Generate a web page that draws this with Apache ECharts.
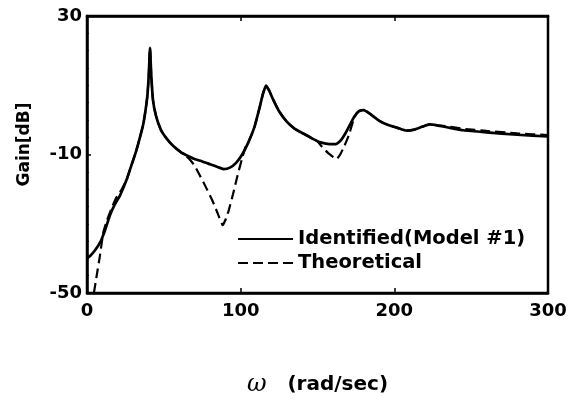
<!DOCTYPE html>
<html>
<head>
<meta charset="utf-8">
<script src="https://cdn.jsdelivr.net/npm/echarts@6/dist/echarts.min.js"></script>
<style>
html,body{margin:0;padding:0;background:#fff;}
#chart{width:577px;height:402px;}
</style>
</head>
<body>
<div id="chart"></div>
<script>
// Frequency (rad/sec) and gain (dB)
var identifiedX = [0, 2, 5, 9, 12, 15, 18, 21.5, 26, 29, 32, 34.5, 36.5, 38, 39.3, 40.2, 41, 41.8, 43, 45, 48, 52, 56, 61, 66, 70, 75, 80, 85, 89, 93, 97, 101, 105, 109, 112, 114.5, 116.5, 118.5, 121, 125, 130, 135, 141, 147, 152, 158, 162, 165, 168, 171, 174, 177, 180, 184, 190, 196, 202, 208, 213, 218, 223, 228, 235, 245, 260, 280, 300];
var identifiedY = [-40, -39.3, -37.8, -35, -31.5, -27.5, -24.5, -21.8, -17, -13, -9, -5, -1.5, 2.5, 7, 13, 20.8, 13, 5.5, 1, -2.8, -5.5, -7.5, -9.3, -10.5, -11.3, -12, -12.8, -13.6, -14.2, -13.8, -12.4, -10, -6.5, -2, 3, 7.5, 9.9, 8.5, 6, 2.5, -0.5, -2.5, -4, -5.5, -6.5, -7, -7, -6, -4, -1.5, 1, 2.5, 2.8, 1.8, -0.2, -1.5, -2.3, -3.1, -2.8, -2, -1.3, -1.6, -2.2, -3, -3.6, -4.3, -4.8];
var theoreticalX = [4.5, 6.3, 8.5, 10.6, 13, 16, 19, 22, 26, 29, 32, 34.5, 36.5, 38, 39.3, 40.2, 41, 41.8, 43, 45, 48, 52, 56, 61, 64, 67, 70, 73.5, 78, 82, 85.5, 88.3, 90, 92, 95, 98, 101, 103, 105, 109, 112, 114.5, 116.5, 118.5, 121, 125, 130, 135, 141, 147, 150, 153, 157, 162.4, 165, 167, 169, 171, 174, 177, 180, 184, 190, 196, 202, 208, 213, 218, 223, 228, 235, 245, 260, 280, 300];
var theoreticalY = [-50, -45, -39, -32.5, -29, -25.5, -22.5, -20.5, -17, -13, -9, -5, -1.5, 2.5, 7, 13, 20.8, 13, 5.5, 1, -2.8, -5.5, -7.5, -9.3, -10.3, -11.5, -13.2, -16.1, -20, -23.7, -27.5, -30.4, -29, -26.5, -21.5, -16, -11, -8, -6.5, -2, 3, 7.5, 9.9, 8.5, 6, 2.5, -0.5, -2.5, -4, -5.5, -6.2, -7.8, -9.6, -11.3, -9.8, -8, -6, -3.6, 0.7, 2.5, 2.8, 1.8, -0.2, -1.5, -2.3, -3.1, -2.8, -2, -1.3, -1.6, -1.9, -2.6, -3.2, -3.9, -4.4];
var xTicks = [0, 100, 200, 300];
var yTicks = [-50, -10, 30];
var seriesNames = ['Identified(Model #1)', 'Theoretical'];

function pairs(xs, ys) { return xs.map(function (x, i) { return [x, ys[i]]; }); }

var tickFont = { fontFamily: 'DejaVu Sans', fontWeight: 'bold', fontSize: 18, color: '#000' };
var chart = echarts.init(document.getElementById('chart'), null, { renderer: 'canvas' });
chart.setOption({
  animation: false,
  backgroundColor: '#fff',
  grid: { left: 87, right: 29, top: 16, bottom: 107, show: true, borderColor: '#000', borderWidth: 2.5, backgroundColor: 'transparent' },
  legend: {
    show: true, orient: 'vertical', left: 232, top: 224, itemWidth: 55, itemHeight: 20, itemGap: 4,
    itemStyle: { opacity: 0 },
    textStyle: { fontFamily: 'DejaVu Sans', fontWeight: 'bold', fontSize: 19.5, color: '#000' },
    data: seriesNames
  },
  xAxis: [{
    type: 'value', min: xTicks[0], max: xTicks[xTicks.length - 1], interval: 100, position: 'bottom',
    axisLine: { show: true, onZero: false, lineStyle: { color: '#000', width: 2.5 } },
    axisTick: { show: true, inside: true, length: 5, lineStyle: { color: '#000', width: 1.5 } },
    axisLabel: Object.assign({ margin: 9 }, tickFont),
    splitLine: { show: false },
    name: '{w|ω}   (rad/sec)', nameLocation: 'middle', nameGap: 80,
    nameTextStyle: { fontFamily: 'DejaVu Sans', fontWeight: 'bold', fontSize: 20, color: '#000',
      rich: { w: { fontFamily: 'DejaVu Serif', fontStyle: 'italic', fontWeight: 'normal', fontSize: 24, color: '#000' } } }
  }, {
    type: 'value', min: xTicks[0], max: xTicks[xTicks.length - 1], interval: 100, position: 'top',
    axisLine: { show: true, onZero: false, lineStyle: { color: '#000', width: 2.5 } },
    axisTick: { show: true, inside: true, length: 5, lineStyle: { color: '#000', width: 1.5 } },
    axisLabel: { show: false }, splitLine: { show: false }
  }],
  yAxis: [{
    type: 'value', min: yTicks[0], max: yTicks[yTicks.length - 1], interval: 40,
    axisLine: { show: true, onZero: false, lineStyle: { color: '#000', width: 2.5 } },
    axisTick: { show: true, inside: true, length: 4, lineStyle: { color: '#000', width: 1.5 } },
    minorTick: { show: true, splitNumber: 8, length: 2, lineStyle: { color: '#000', width: 1 } },
    axisLabel: Object.assign({ margin: 5 }, tickFont),
    splitLine: { show: false },
    name: 'Gain[dB]', nameLocation: 'middle', nameGap: 54, nameRotate: 90,
    nameTextStyle: { fontFamily: 'DejaVu Sans', fontWeight: 'bold', fontSize: 17, color: '#000', padding: [0, 0, 0, 20] }
  }],
  series: [{
    name: seriesNames[0], type: 'line', xAxisIndex: 0, data: pairs(identifiedX, identifiedY),
    showSymbol: false, symbol: 'none', smooth: 0.15, clip: true,
    lineStyle: { color: '#000', width: 2.7, type: 'solid' }, itemStyle: { color: '#000' }, z: 3
  }, {
    name: seriesNames[1], type: 'line', xAxisIndex: 0, data: pairs(theoreticalX, theoreticalY),
    showSymbol: false, symbol: 'none', smooth: 0.15, clip: true,
    lineStyle: { color: '#000', width: 2.2, type: [10, 5] }, itemStyle: { color: '#000' }, z: 2
  }]
});
</script>
</body>
</html>
